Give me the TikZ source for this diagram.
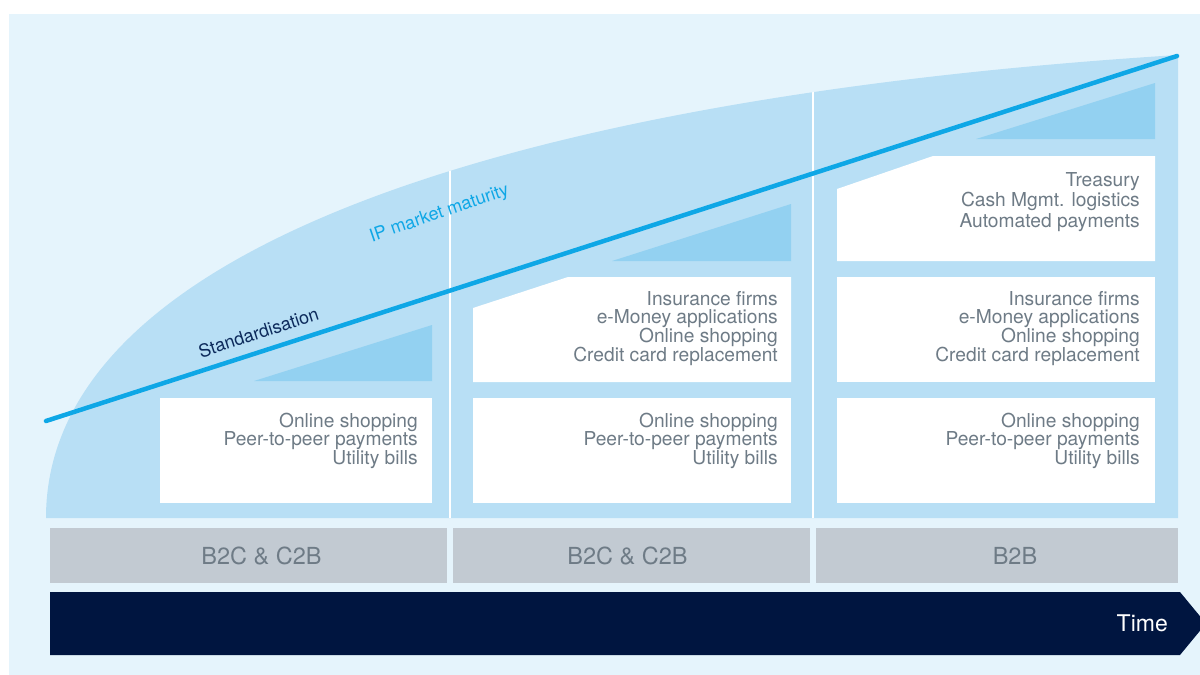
\documentclass[tikz,border=0pt]{standalone}
\usepackage{fontspec}
\setmainfont{TeX Gyre Heros}
\definecolor{bgc}{HTML}{E5F4FC}
\definecolor{areac}{HTML}{B8DFF5}
\definecolor{tric}{HTML}{93D1F1}
\definecolor{linec}{HTML}{0EA7E6}
\definecolor{navytxt}{HTML}{0C2A5B}
\definecolor{graybox}{HTML}{C2CAD2}
\definecolor{graytxt}{HTML}{6E7B86}
\definecolor{arrowc}{HTML}{001540}
\tikzset{
  boxtxt/.style={font=\fontsize{19.2}{19.2}\selectfont, text=graytxt, anchor=base east, inner sep=0pt},
  bandtxt/.style={font=\fontsize{23.5}{23.5}\selectfont, text=graytxt, anchor=base, inner sep=0pt},
  whitebox/.style={fill=white},
  tribox/.style={fill=tric},
  band/.style={fill=graybox},
}
\begin{document}
\begin{tikzpicture}[x=1pt,y=-1pt]
\useasboundingbox (0,0) rectangle (1200,675);
\fill[bgc] (9,14) rectangle (1200,675);
% maturity area
\fill[areac] (46,518) .. controls (46,240) and (540,95) .. (1178,55) -- (1178,518) -- cycle;
\begin{scope}
  \clip (46,518) .. controls (46,240) and (540,95) .. (1178,55) -- (1178,518) -- cycle;
  \draw[white, line width=2.5pt] (450,0) -- (450,518) (813,0) -- (813,518);
\end{scope}
% triangles
\fill[tribox] (254,381) -- (432,381) -- (432,325) -- cycle;
\fill[tribox] (612,261) -- (791,261) -- (791,204) -- cycle;
\fill[tribox] (976,139) -- (1155,139) -- (1155,83) -- cycle;
% white boxes
\fill[whitebox] (160,398) rectangle (432,503);
\fill[whitebox] (473,398) rectangle (791,503);
\fill[whitebox] (837,398) rectangle (1155,503);
\fill[whitebox] (473,382) -- (473,308) -- (568,277) -- (791,277) -- (791,382) -- cycle;
\fill[whitebox] (837,277) rectangle (1155,382);
\fill[whitebox] (837,261) -- (837,189) -- (933,156) -- (1155,156) -- (1155,261) -- cycle;
% standardisation line
\coordinate (ls) at (46,421);
\coordinate (le) at (1177,56);
\draw[linec, line width=4.5pt, line cap=round] (ls) -- (le);
\node[font=\fontsize{18}{18}\selectfont, text=navytxt, rotate=18, inner sep=0pt] (std) at (258.5,332.5) {Standardisation};
\node[font=\fontsize{18}{18}\selectfont, text=linec, rotate=19, inner sep=0pt] (ipm) at (439.5,214) {IP market maturity};
% box texts
\foreach \t [count=\i] in {Online shopping, Peer-to-peer payments, Utility bills}
  \node[boxtxt] (aa\i) at (418,{427+(\i-1)*18.5}) {\t};
\foreach \t [count=\i] in {Online shopping, Peer-to-peer payments, Utility bills}
  \node[boxtxt] (ba\i) at (778,{427+(\i-1)*18.5}) {\t};
\foreach \t [count=\i] in {Insurance firms, e-Money applications, Online shopping, Credit card replacement}
  \node[boxtxt] (bb\i) at (778,{305+(\i-1)*18.7}) {\t};
\foreach \t [count=\i] in {Online shopping, Peer-to-peer payments, Utility bills}
  \node[boxtxt] (ca\i) at (1140,{427+(\i-1)*18.5}) {\t};
\foreach \t [count=\i] in {Insurance firms, e-Money applications, Online shopping, Credit card replacement}
  \node[boxtxt] (cb\i) at (1140,{305+(\i-1)*18.7}) {\t};
\foreach \t [count=\i] in {Treasury, Cash Mgmt. logistics, Automated payments}
  \node[boxtxt] (cc\i) at (1140,{186+(\i-1)*20.7}) {\t};
% bands
\fill[band] (50,528) rectangle (447,583);
\fill[band] (453,528) rectangle (810,583);
\fill[band] (816,528) rectangle (1178,583);
\node[bandtxt] (b1) at (261.5,564) {B2C \& C2B};
\node[bandtxt] (b2) at (627.5,564) {B2C \& C2B};
\node[bandtxt] (b3) at (1015,564) {B2B};
% time arrow
\fill[arrowc] (50,592) -- (1180,592) -- (1206,623.5) -- (1180,655) -- (50,655) -- cycle;
\node[font=\fontsize{23}{23}\selectfont, text=white, anchor=base east, inner sep=0pt] (time) at (1168,631) {Time};
\end{tikzpicture}
\end{document}
